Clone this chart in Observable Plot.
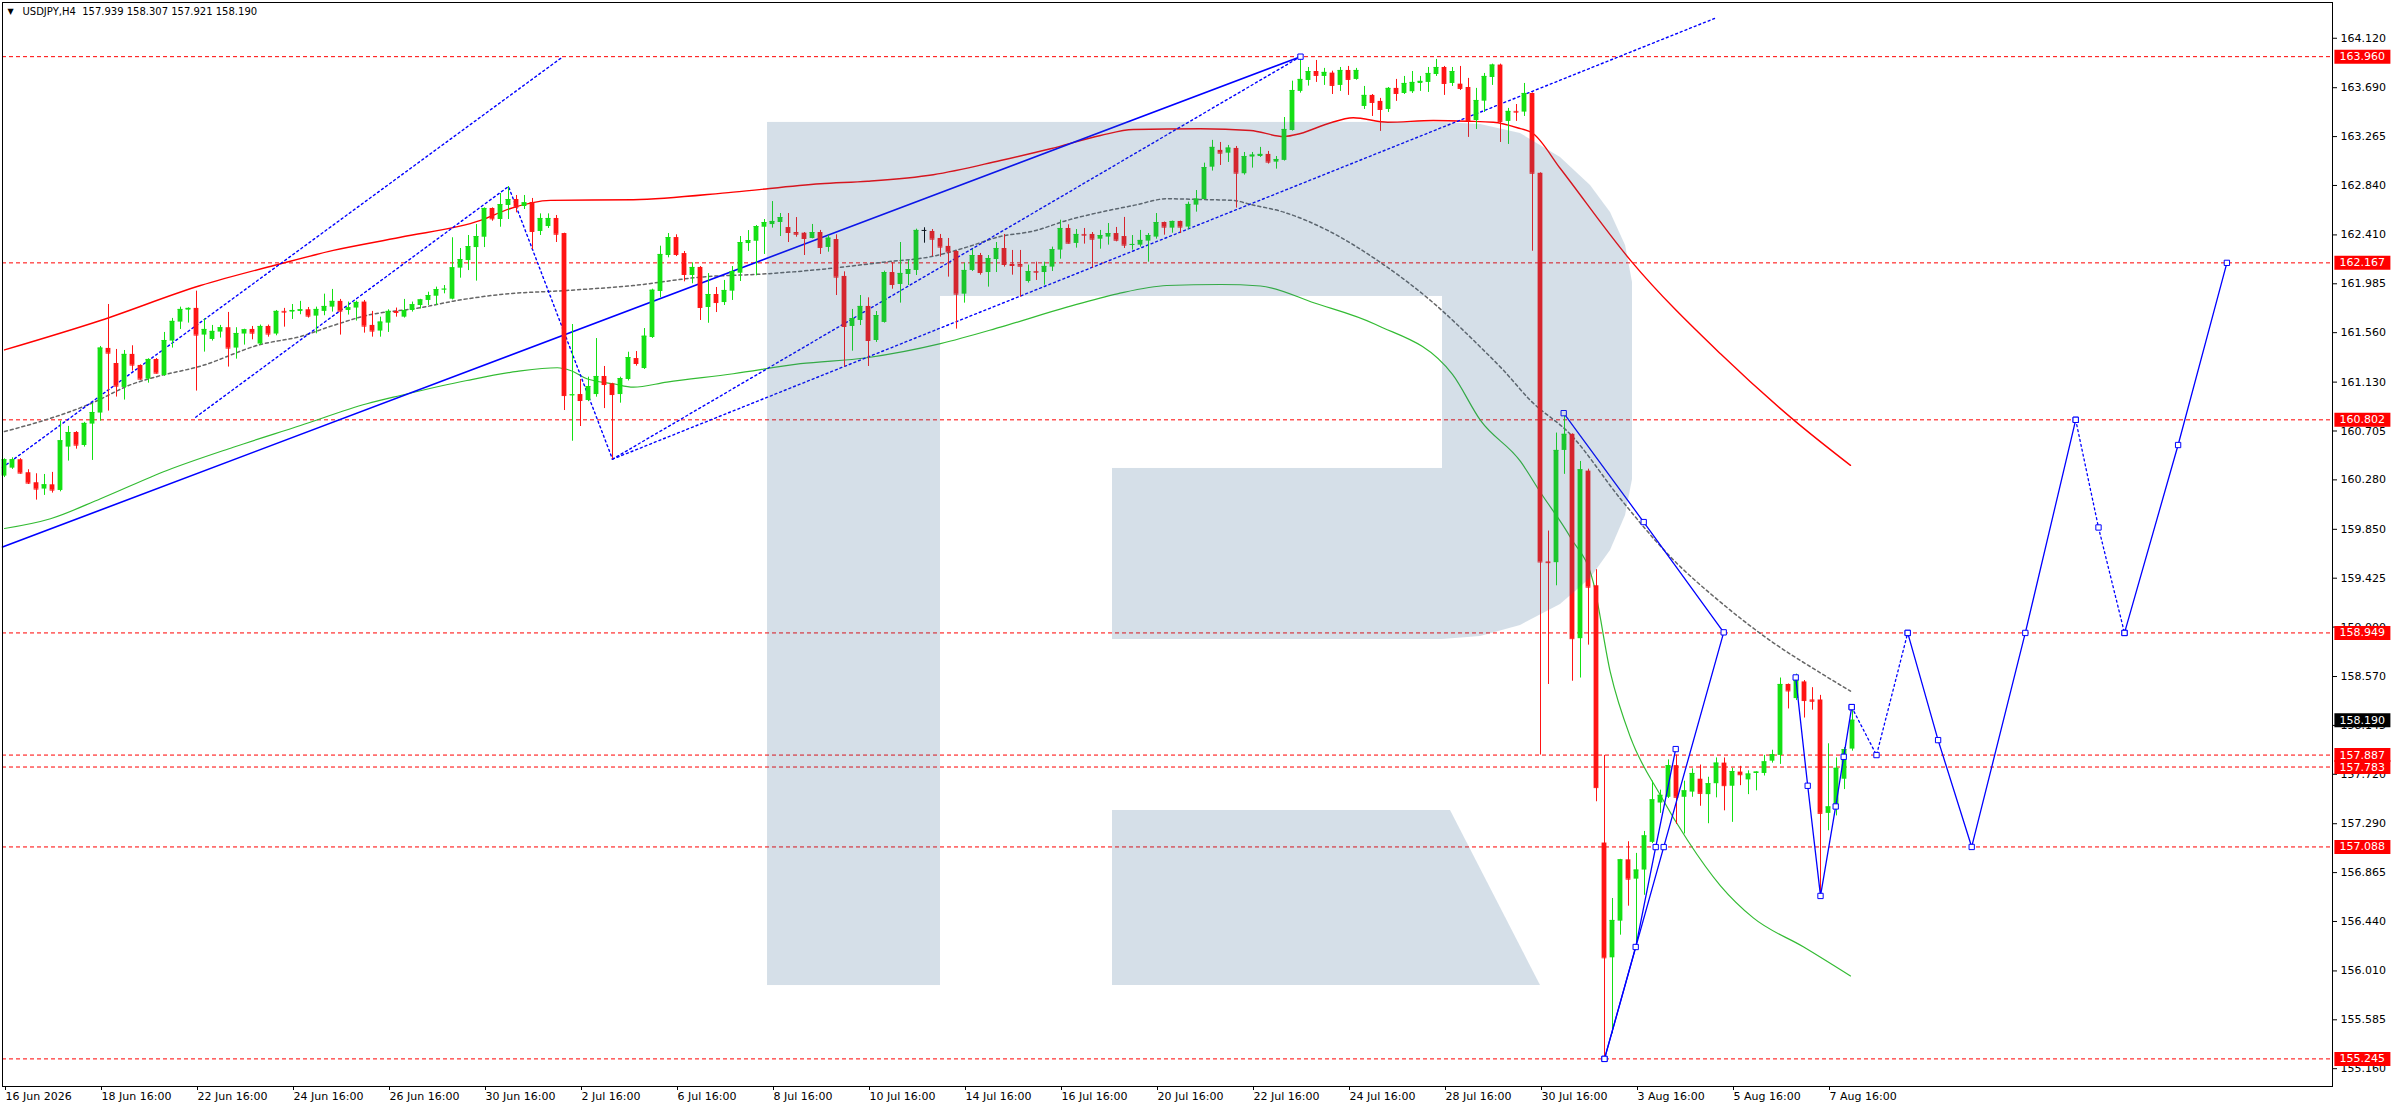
<!DOCTYPE html>
<html>
<head>
<meta charset="utf-8">
<script src="https://cdn.jsdelivr.net/npm/d3@7"></script>
<script src="https://cdn.jsdelivr.net/npm/@observablehq/plot@0.6"></script>
<style>
  html, body { margin: 0; padding: 0; background: #fff; overflow: hidden; }
  #chart svg { display: block; }
</style>
</head>
<body>
<div id="chart"></div>
<script>
// USDJPY H4 — bar 0 is 16 Jun 2026, one bar = 4 hours (weekends skipped)
const open = [
160.313,160.382,160.455,160.342,160.255,160.200,160.237,160.188,160.565,160.692,
160.579,160.765,160.861,161.423,161.292,161.084,161.371,161.275,161.156,161.327,
161.188,161.487,161.652,161.756,161.771,161.539,161.501,161.565,161.603,161.426,
161.548,161.588,161.461,161.614,161.548,161.745,161.739,161.745,161.759,161.704,
161.745,161.782,161.832,161.753,161.774,161.826,161.623,161.574,161.643,161.745,
161.695,161.753,161.796,161.840,161.877,161.935,161.851,162.121,162.187,162.300,
162.390,162.640,162.544,162.666,162.718,162.657,162.692,162.440,162.483,162.553,
162.422,161.013,161.022,160.970,161.022,161.179,161.115,161.022,161.153,161.335,
161.248,161.518,161.918,162.231,162.387,162.248,162.057,162.127,161.779,161.892,
161.822,161.921,162.077,162.335,162.355,162.477,162.500,162.518,162.474,162.431,
162.425,162.379,162.431,162.301,162.370,162.049,161.614,161.666,161.788,161.492,
161.649,162.083,161.979,162.066,162.101,162.449,162.440,162.379,162.310,162.266,
161.895,162.101,162.231,162.083,162.196,162.292,162.153,162.153,162.005,162.092,
162.083,162.130,162.278,162.466,162.336,162.414,162.414,162.373,162.391,162.422,
162.396,162.321,162.321,162.356,162.391,162.518,162.469,162.527,162.478,162.669,
162.718,162.999,163.145,163.121,163.162,162.942,163.087,163.092,163.110,163.043,
163.058,163.318,163.658,163.753,163.831,163.788,163.817,163.710,163.840,163.762,
163.527,163.623,163.571,163.501,163.684,163.640,163.655,163.727,163.736,163.805,
163.866,163.727,163.721,163.692,163.405,163.573,163.779,163.887,163.397,163.484,
163.478,163.640,162.946,159.566,159.560,160.536,160.676,158.899,160.356,159.359,
157.122,156.124,156.443,156.976,156.808,156.887,157.128,157.470,157.520,157.795,
157.520,157.565,157.677,157.543,157.638,157.817,157.616,157.739,157.671,157.727,
157.727,157.834,157.884,158.501,158.378,158.523,158.366,158.366,157.380,157.425,
157.677,157.939];
const high = [
160.463,160.472,160.465,160.368,160.333,160.327,160.345,160.791,160.745,160.700,
160.780,160.942,161.440,161.805,161.414,161.405,161.446,161.280,161.333,161.335,
161.562,161.684,161.782,161.776,161.921,161.681,161.623,161.623,161.736,161.603,
161.590,161.614,161.626,161.626,161.753,161.771,161.805,161.832,161.779,161.782,
161.895,161.936,161.849,161.826,161.834,161.840,161.745,161.695,161.759,161.774,
161.849,161.826,161.850,161.912,161.956,161.970,162.385,162.292,162.405,162.500,
162.645,162.645,162.770,162.831,162.753,162.753,162.727,162.593,162.593,162.579,
162.425,161.631,161.153,161.173,161.509,161.266,161.120,161.173,161.390,161.396,
161.596,161.938,162.312,162.422,162.411,162.266,162.167,162.135,162.074,161.953,
162.014,162.135,162.396,162.448,162.492,162.544,162.700,162.596,162.596,162.561,
162.431,162.501,162.449,162.405,162.411,162.089,161.762,161.883,161.863,161.744,
162.095,162.170,162.344,162.188,162.460,162.472,162.457,162.414,162.379,162.272,
162.164,162.283,162.249,162.231,162.344,162.414,162.275,162.275,162.147,162.173,
162.173,162.304,162.538,162.498,162.457,162.466,162.431,162.449,162.509,162.475,
162.562,162.405,162.449,162.422,162.596,162.522,162.530,162.530,162.695,162.796,
163.034,163.232,163.214,163.188,163.179,163.127,163.127,163.171,163.136,163.092,
163.431,163.747,163.960,163.866,163.927,163.858,163.834,163.866,163.875,163.858,
163.701,163.631,163.597,163.692,163.762,163.788,163.831,163.788,163.866,163.936,
163.875,163.866,163.875,163.771,163.684,163.814,163.895,163.895,163.510,163.544,
163.727,163.645,162.950,159.835,160.687,160.855,160.680,160.440,160.373,159.499,
157.884,156.640,156.980,157.133,157.032,157.223,157.660,157.582,157.845,157.887,
157.660,157.767,157.800,157.694,157.862,157.862,157.772,157.789,157.750,157.742,
157.884,157.929,158.557,158.505,158.591,158.535,158.473,158.406,157.985,157.862,
157.952,158.307];
const low = [
160.300,160.371,160.330,160.240,160.104,160.145,160.165,160.176,160.443,160.547,
160.565,160.449,160.791,160.878,161.000,160.974,161.226,161.147,161.121,161.200,
161.180,161.426,161.588,161.643,161.052,161.391,161.487,161.513,161.261,161.330,
161.452,161.498,161.449,161.521,161.533,161.608,161.675,161.716,161.687,161.550,
161.707,161.739,161.539,161.713,161.661,161.556,161.521,161.521,161.562,161.695,
161.687,161.739,161.767,161.796,161.796,161.898,161.845,162.034,162.100,162.008,
162.300,162.529,162.477,162.544,162.602,162.631,162.283,162.405,162.466,162.344,
160.883,160.616,160.744,160.960,160.999,160.900,160.460,160.947,161.140,161.269,
161.240,161.510,161.863,162.211,162.222,162.002,161.985,161.666,161.642,161.735,
161.796,161.840,162.005,162.266,162.054,162.240,162.469,162.396,162.344,162.390,
162.231,162.376,162.240,162.260,161.883,161.260,161.399,161.622,161.266,161.475,
161.643,161.938,161.817,161.970,162.057,162.338,162.222,162.217,162.043,161.591,
161.817,162.092,162.060,161.956,162.083,162.130,162.060,161.869,161.991,162.014,
161.973,162.092,162.199,162.330,162.295,162.330,162.118,162.286,162.321,162.350,
162.292,162.278,162.304,162.173,162.373,162.408,162.425,162.422,162.457,162.608,
162.715,162.965,163.014,163.040,162.643,162.930,162.991,163.084,163.026,162.982,
163.052,163.313,163.643,163.704,163.736,163.710,163.631,163.658,163.623,163.755,
163.501,163.440,163.310,163.475,163.571,163.631,163.640,163.658,163.649,163.788,
163.623,163.701,163.666,163.258,163.327,163.475,163.710,163.214,163.197,163.397,
163.440,162.268,157.887,158.501,159.359,160.328,158.529,158.557,158.843,157.481,
155.245,155.463,156.321,156.573,156.220,156.668,157.117,157.380,157.509,157.285,
157.201,157.520,157.442,157.290,157.515,157.402,157.302,157.621,157.543,157.576,
157.705,157.817,157.806,158.288,158.361,158.209,158.277,156.662,157.229,157.358,
157.587,157.921];
const close = [
160.455,160.455,160.339,160.252,160.200,160.237,160.191,160.620,160.692,160.582,
160.771,160.866,161.426,161.382,161.095,161.371,161.278,161.156,161.327,161.208,
161.492,161.658,161.762,161.771,161.539,161.588,161.571,161.603,161.426,161.553,
161.585,161.556,161.614,161.548,161.745,161.739,161.753,161.759,161.704,161.762,
161.788,161.832,161.747,161.776,161.823,161.617,161.574,161.652,161.745,161.736,
161.753,161.803,161.845,161.883,161.935,161.938,162.124,162.196,162.309,162.396,
162.640,162.550,162.674,162.718,162.651,162.689,162.440,162.553,162.553,162.416,
161.013,161.019,160.970,161.092,161.179,161.109,161.022,161.161,161.344,161.292,
161.529,161.929,162.240,162.387,162.240,162.066,162.127,161.779,161.892,161.822,
161.927,162.092,162.344,162.361,162.483,162.518,162.527,162.561,162.431,162.416,
162.379,162.431,162.301,162.382,162.043,161.614,161.683,161.788,161.492,161.709,
162.083,161.979,162.075,162.109,162.449,162.449,162.373,162.304,162.263,161.895,
162.101,162.231,162.083,162.205,162.292,162.153,162.144,162.138,162.092,162.086,
162.136,162.283,162.466,162.338,162.414,162.408,162.373,162.405,162.422,162.364,
162.321,162.327,162.362,162.405,162.518,162.478,162.527,162.478,162.675,162.721,
162.996,163.171,163.121,163.165,162.947,163.092,163.104,163.110,163.043,163.066,
163.327,163.666,163.762,163.831,163.797,163.823,163.710,163.840,163.762,163.840,
163.623,163.562,163.501,163.684,163.640,163.727,163.736,163.745,163.814,163.866,
163.727,163.831,163.684,163.405,163.579,163.788,163.887,163.397,163.484,163.478,
163.640,162.946,159.566,159.560,160.536,160.676,158.899,160.368,159.347,157.604,
156.124,156.449,156.976,156.808,156.887,157.184,157.498,157.537,157.795,157.520,
157.576,157.727,157.554,157.638,157.817,157.621,157.744,157.716,157.722,157.739,
157.828,157.890,158.501,158.445,158.535,158.361,158.355,157.380,157.436,157.772,
157.935,158.190];

// time axis: a label every 12 bars
const xTickBars = [0,12,24,36,48,60,72,84,96,108,120,132,144,156,168,180,192,204,216,228];
const xTickLabels = ["16 Jun 2026","18 Jun 16:00","22 Jun 16:00","24 Jun 16:00","26 Jun 16:00",
  "30 Jun 16:00","2 Jul 16:00","6 Jul 16:00","8 Jul 16:00","10 Jul 16:00","14 Jul 16:00",
  "16 Jul 16:00","20 Jul 16:00","22 Jul 16:00","24 Jul 16:00","28 Jul 16:00","30 Jul 16:00",
  "3 Aug 16:00","5 Aug 16:00","7 Aug 16:00"];
const yTicks = [164.120,163.690,163.265,162.840,162.410,161.985,161.560,161.130,160.705,160.280,
  159.850,159.425,159.000,158.570,158.145,157.720,157.290,156.865,156.440,156.010,155.585,155.160];
const levels = [163.960,162.167,160.802,158.949,157.887,157.783,157.088,155.245];
const lastPrice = 158.190;

// moving averages, [bar, price] knots
const maRed = [[0,161.410],[12,161.666],[24.5,161.970],[34.5,162.159],[41.1,162.275],[49.5,162.390],
  [59.5,162.536],[63.25,162.640],[68.25,162.710],[78.6,162.716],[91.1,162.782],[102,162.855],
  [107.9,162.877],[116.1,162.933],[124.5,163.057],[130.75,163.159],[137,163.275],[141.1,163.327],
  [149.5,163.333],[155.75,163.318],[159.9,163.266],[162,163.292],[165.4,163.377],[168.6,163.429],
  [172.9,163.390],[178.6,163.405],[182.9,163.399],[186.1,163.390],[189.1,163.342],[191.1,163.290],
  [194.5,162.985],[203.25,162.189],[214.5,161.376],[223.6,160.804],[230.75,160.406]];
const maGreen = [[0,159.857],[5.75,159.942],[12,160.116],[20.3,160.362],[28.6,160.564],[37,160.753],
  [45.3,160.942],[49.5,161.014],[57.8,161.144],[64.1,161.223],[69.1,161.255],[70.75,161.231],
  [72.8,161.159],[76.1,161.116],[78.6,161.086],[82.8,161.130],[91.1,161.203],[99.5,161.290],
  [107.8,161.342],[117,161.464],[124.5,161.608],[132.8,161.782],[139.1,161.898],[145.3,161.970],
  [152,161.979],[157,161.966],[163.75,161.818],[171.4,161.631],[181,161.197],[184.5,160.797],
  [189.5,160.440],[192,160.170],[195.75,159.779],[198.6,159.388],[200.75,158.601],[203.25,158.040],
  [207,157.536],[210.4,157.144],[214.5,156.750],[218.6,156.471],[224.9,156.218],[230.75,155.966]];
const maGray = [[0,160.701],[4.5,160.788],[10.75,160.942],[16.1,161.116],[19.1,161.179],[24.5,161.269],
  [32,161.457],[37,161.527],[41.1,161.623],[45.3,161.710],[52,161.777],[56.1,161.834],[62,161.892],
  [70.3,161.927],[78.6,161.970],[87,162.043],[95.3,162.072],[102,162.110],[109.9,162.173],
  [116.1,162.225],[120.3,162.304],[124.5,162.397],[128.6,162.443],[132.8,162.536],[137,162.608],
  [141.1,162.666],[145.3,162.724],[149.5,162.718],[153.6,162.710],[155.75,162.675],[159.9,162.608],
  [165.4,162.449],[172,162.170],[178.25,161.840],[184.5,161.434],[187.4,161.231],[190.75,160.970],
  [195.75,160.675],[202,160.115],[208.25,159.610],[214.5,159.217],[220.75,158.881],[227,158.601],
  [230.75,158.443]];

// drawn trend lines and wave forecast
const trendSolid = [[-0.25,159.696],[162,163.960]];
const trendDashed = [
  [[-0.25,160.388],[69.75,163.957]],
  [[23.9,160.825],[63,162.831],[76,160.460]],
  [[76,160.460],[162,163.960]],
  [[76,160.460],[213.75,164.292]]];
const waveSolid = [
  [[194.9,160.860],[204.9,159.913],[214.9,158.954],[207.4,157.087],[200,155.245]],
  [[200,155.245],[203.9,156.218],[206.4,157.087],[208.9,157.939]],
  [[223.9,158.562],[225.4,157.620],[227,156.662],[228.9,157.440],[229.9,157.872],[230.9,158.304]],
  [[237.9,158.949],[241.7,158.017],[245.9,157.088],[252.6,158.949],[258.9,160.802]],
  [[265,158.949],[271.7,160.583],[277.8,162.167]]];
const waveDotted = [
  [[230.9,158.304],[234,157.887],[237.9,158.949]],
  [[258.9,160.802],[261.75,159.866],[265,158.949]]];

// background logo pieces in chart units
const logoRects = [[95.38,117,155.883,163.388],[117,179.75,161.875,163.388],[138.5,179.75,158.892,160.379]];
const logoBowl = [[179.75,158.892,163.388],[184.5,158.918,163.371],[189.5,159.014,163.292],
  [194.5,159.197,163.084],[198.25,159.423,162.840],[200.75,159.666,162.605],[202.63,159.970,162.318],
  [203.5,160.283,161.996]];
const logoLeg = [[138.5,155.883,157.405],[180.75,155.883,157.405],[192,155.883,155.883]];

const candles = open.map((o, i) => ({i, o, h: high[i], l: low[i], c: close[i]}));
const last = candles[candles.length - 1];
const fmt = d3.format(".3f");
const xLabel = new Map(xTickBars.map((b, k) => [b, xTickLabels[k]]));
const upCol = "#14e014", downCol = "#ff1414";
const candleCol = d => d.c > d.o ? upCol : d.c < d.o ? downCol : "#000";
const flat = groups => groups.flatMap((g, id) => g.map(([x, y]) => ({id, x, y})));
const markers = [trendSolid[1], ...waveSolid.flat(), ...waveDotted.flat()];

const xMax = 291;
const logoFill = {fill: "rgb(57,104,146)", fillOpacity: 0.21};

const chart = Plot.plot({
  width: 2396,
  height: 1110,
  marginTop: 2, marginRight: 64, marginBottom: 24, marginLeft: 2,
  x: {domain: [-0.25, xMax]},
  y: {domain: [155.005, 164.431]},
  style: {fontFamily: "'DejaVu Sans', Tahoma, sans-serif", fontSize: "11px", background: "#fff", color: "#000", overflow: "visible"},
  marks: [
    Plot.ruleY(levels, {stroke: "#ff0000", strokeDasharray: "4,3"}),
    Plot.line(maGreen, {x: d => d[0], y: d => d[1], stroke: "#33bb33", strokeWidth: 1.2, curve: "monotone-x"}),
    Plot.line(maRed, {x: d => d[0], y: d => d[1], stroke: "#ff0000", strokeWidth: 1.4, curve: "monotone-x"}),
    Plot.line(maGray, {x: d => d[0], y: d => d[1], stroke: "#666", strokeDasharray: "3,3", curve: "monotone-x"}),
    Plot.line(trendSolid, {x: d => d[0], y: d => d[1], stroke: "#0000ff", strokeWidth: 1.6}),
    Plot.line(flat(trendDashed), {x: "x", y: "y", z: "id", stroke: "#0000ff", strokeWidth: 1.4, strokeDasharray: "2,3"}),
    // candles
    Plot.ruleX(candles, {x: "i", y1: "l", y2: "h", stroke: candleCol}),
    Plot.rect(candles, {x1: d => d.i - 0.3, x2: d => d.i + 0.3, y1: "o", y2: "c", fill: candleCol}),
    Plot.ruleY(candles, {y: "c", x1: d => d.i - 0.3, x2: d => d.i + 0.3, stroke: candleCol}),
    // forecast
    Plot.line(flat(waveSolid), {x: "x", y: "y", z: "id", stroke: "#0000ff", strokeWidth: 1.3}),
    Plot.line(flat(waveDotted), {x: "x", y: "y", z: "id", stroke: "#0000ff", strokeWidth: 1.3, strokeDasharray: "2,3"}),
    Plot.dot(markers, {x: d => d[0], y: d => d[1], symbol: "square", r: 3, stroke: "#0000ff", fill: "#fff", strokeWidth: 1}),
    // watermark
    Plot.rect(logoRects, {x1: d => d[0], x2: d => d[1], y1: d => d[2], y2: d => d[3], ...logoFill}),
    Plot.area(logoBowl, {x1: d => d[0], y1: d => d[1], y2: d => d[2], ...logoFill}),
    Plot.area(logoLeg, {x1: d => d[0], y1: d => d[1], y2: d => d[2], ...logoFill}),
    Plot.frame({stroke: "#000"}),
    Plot.axisY({anchor: "right", ticks: yTicks, tickFormat: fmt, tickSize: 4, tickPadding: 4, label: null}),
    Plot.axisX({anchor: "bottom", ticks: xTickBars, tickFormat: d => xLabel.get(d), tickSize: 4, tickPadding: 2, textAnchor: "start", dx: 1, label: null}),
    // price labels
    Plot.ruleY(levels, {y: d => d, x1: xMax + 0.3, x2: xMax + 7.3, stroke: "#ff0000", strokeWidth: 14}),
    Plot.ruleY([lastPrice], {y: d => d, x1: xMax + 0.3, x2: xMax + 7.3, stroke: "#000", strokeWidth: 14}),
    Plot.text(levels, {y: d => d, frameAnchor: "right", dx: 7, text: d => fmt(d), textAnchor: "start", fill: "#fff"}),
    Plot.text([lastPrice], {y: d => d, frameAnchor: "right", dx: 7, text: d => fmt(d), textAnchor: "start", fill: "#fff"}),
    // header
    Plot.text(["\u25BC"], {text: d => d, frameAnchor: "top-left", dx: 5, dy: 6, lineAnchor: "top", textAnchor: "start", fontSize: 8}),
    Plot.text([`USDJPY,H4\u00a0\u00a0${fmt(last.o)} ${fmt(last.h)} ${fmt(last.l)} ${fmt(last.c)}`],
      {text: d => d, frameAnchor: "top-left", dx: 20, dy: 5, lineAnchor: "top", textAnchor: "start", fill: "#000", fontSize: 10})
  ]
});

d3.select("#chart").append(() => chart);
</script>
</body>
</html>
